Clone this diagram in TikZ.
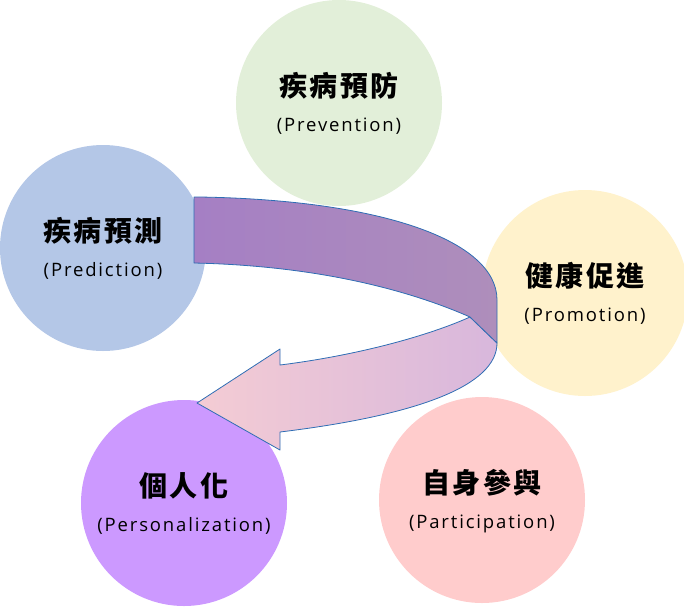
\documentclass[tikz,border=0pt]{standalone}
\usepackage{fontspec}
\setmainfont{Open Sans}[LetterSpace=10]
\newfontfamily\zhfont{Noto Sans CJK TC}[LetterSpace=8]
\usetikzlibrary{calc}
\definecolor{BubbleGreen}{HTML}{E2EFD9}
\definecolor{BubbleBlue}{HTML}{B4C7E7}
\definecolor{BubbleYellow}{HTML}{FFF2CC}
\definecolor{BubblePink}{HTML}{FFCCCC}
\definecolor{BubbleLilac}{HTML}{CC99FF}
\definecolor{ArrowEdge}{HTML}{2E6DB4}
\definecolor{ArrowDark}{HTML}{A57FC4}
\definecolor{ArrowMid}{HTML}{AE8EBB}
\definecolor{ArrowLight}{HTML}{D8B7DC}
\definecolor{ArrowRose}{HTML}{F4CCD4}

\begin{document}
\begin{tikzpicture}[x=1pt,y=-1pt,
    bubble/.style={circle,minimum size=206pt,inner sep=0pt},
    zh/.style={anchor=base,inner sep=0pt,font=\zhfont\bfseries\fontsize{28}{32}\selectfont},
    en/.style={anchor=base,inner sep=0pt,font=\fontsize{18.5}{22}\selectfont},
    band/.style={draw=ArrowEdge,line width=0.8pt,line join=round}
  ]
    \useasboundingbox (0,0) rectangle (684,606);
    % circles
    \node[bubble,fill=BubbleGreen] (prevent) at (339,103) {};
    \node[bubble,fill=BubbleBlue] (predict) at (103,248) {};
    \node[bubble,fill=BubbleYellow] (promote) at (585,293) {};
    \node[bubble,fill=BubblePink] (particip) at (482,500) {};
    \node[bubble,fill=BubbleLilac] (personal) at (184,503) {};
    % labels
    \node[zh] (prevent-zh) at ($(prevent)+(0,-7)$) {疾病預防};
    \node[en] (prevent-en) at ($(prevent)+(0,28)$) {(Prevention)};
    \node[zh] (predict-zh) at ($(predict)+(0,-7)$) {疾病預測};
    \node[en] (predict-en) at ($(predict)+(0,28)$) {(Prediction)};
    \node[zh] (promote-zh) at ($(promote)+(0,-7)$) {健康促進};
    \node[en] (promote-en) at ($(promote)+(0,28)$) {(Promotion)};
    \node[zh] (particip-zh) at ($(particip)+(0,-7)$) {自身參與};
    \node[en] (particip-en) at ($(particip)+(0,28)$) {(Participation)};
    \node[zh] (personal-zh) at ($(personal)+(0,-7)$) {個人化};
    \node[en] (personal-en) at ($(personal)+(0,28)$) {(Personalization)};
    % curved arrow, back half first
    \draw[band,left color=ArrowRose,right color=ArrowLight]
      (497,343) .. controls (497,385) and (420,415) .. (280,432)
      -- (280,450) -- (197,403) -- (280,349) -- (280,365)
      .. controls (360,355) and (430,335) .. (470,317) -- cycle;
    \draw[band,left color=ArrowDark,right color=ArrowMid]
      (194,197) -- (200,197) .. controls (380,200) and (497,240) .. (497,300)
      -- (497,343) -- (470,317)
      .. controls (420,295) and (330,266) .. (194,263) -- cycle;
  \end{tikzpicture}
\end{document}
